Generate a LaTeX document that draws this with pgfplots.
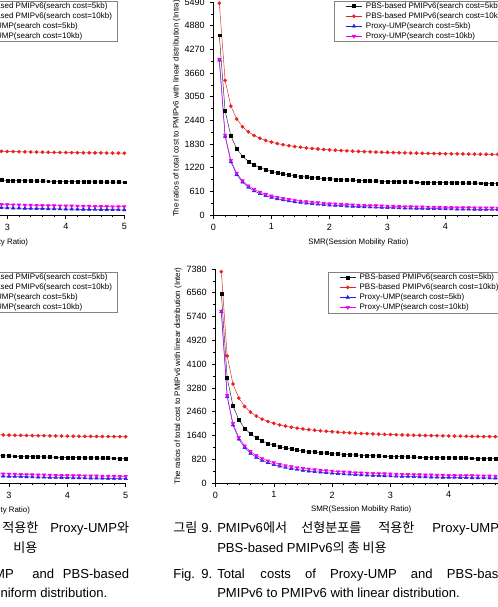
\documentclass[border=0pt]{standalone}
\usepackage{fontspec}
\setmainfont{Liberation Sans}
\newfontfamily\kr{Noto Sans CJK KR}
\usepackage{pgfplots}
\pgfplotsset{compat=1.18}
\usepackage{pgfplotstable}

\definecolor{cred}{RGB}{232,32,32}
\definecolor{cblue}{RGB}{32,32,225}
\definecolor{cmag}{RGB}{235,0,235}
\definecolor{lgray}{RGB}{130,130,130}

% Intra-domain total cost, linear distribution
\pgfplotstableread{
x   black red  blue mag
0.1 4634 5460 3990 4020
0.2 2684 3470 2025 2060
0.3 2034 2807 1370 1407
0.4 1709 2475 1043 1080
0.5 1514 2276 846 884
0.6 1384 2143 715 753
0.7 1291 2049 621 660
0.8 1222 1978 551 590
0.9 1167 1922 497 536
1.0 1124 1878 453 492
1.1 1089 1842 417 456
1.2 1059 1812 388 427
1.3 1034 1786 362 402
1.4 1013 1764 341 380
1.5 994 1745 322 361
1.6 978 1729 306 345
1.7 963 1714 291 331
1.8 951 1701 278 318
1.9 939 1689 267 306
2.0 929 1679 257 296
2.1 920 1670 247 287
2.2 911 1661 239 278
2.3 904 1653 231 270
2.4 897 1646 224 263
2.5 890 1639 217 257
2.6 884 1633 211 251
2.7 878 1627 206 245
2.8 873 1622 200 240
2.9 869 1617 196 235
3.0 864 1613 191 231
3.1 860 1608 187 226
3.2 856 1604 183 223
3.3 852 1601 179 219
3.4 849 1597 176 215
3.5 845 1594 172 212
3.6 842 1591 169 209
3.7 839 1588 166 206
3.8 837 1585 163 203
3.9 834 1582 161 201
4.0 832 1580 158 198
4.1 829 1577 156 196
4.2 827 1575 154 193
4.3 825 1573 151 191
4.4 823 1570 149 189
4.5 821 1568 147 187
4.6 819 1567 145 185
4.7 817 1565 144 183
4.8 815 1563 142 182
4.9 814 1561 140 180
5.0 812 1560 139 178
}\intralin

% Inter-domain total cost, linear distribution
\pgfplotstableread{
x   black red  blue mag
0.1 6542 7287 5907 5920
0.2 3632 4382 2977 3020
0.3 2662 3414 2000 2053
0.4 2177 2930 1512 1570
0.5 1886 2639 1219 1280
0.6 1692 2445 1024 1087
0.7 1553 2307 884 949
0.8 1450 2203 780 845
0.9 1369 2123 698 764
1.0 1304 2058 633 700
1.1 1251 2005 580 647
1.2 1207 1961 535 603
1.3 1170 1924 498 566
1.4 1138 1892 466 534
1.5 1110 1864 438 507
1.6 1086 1840 413 483
1.7 1064 1819 392 461
1.8 1045 1800 373 442
1.9 1028 1783 355 425
2.0 1013 1768 340 410
2.1 999 1754 326 396
2.2 987 1741 313 384
2.3 975 1730 302 372
2.4 965 1719 291 362
2.5 955 1709 281 352
2.6 946 1700 272 343
2.7 938 1692 264 335
2.8 930 1684 256 327
2.9 923 1677 249 320
3.0 916 1671 242 313
3.1 910 1664 236 307
3.2 904 1659 230 301
3.3 898 1653 225 296
3.4 893 1648 219 291
3.5 888 1643 214 286
3.6 884 1638 210 281
3.7 879 1634 205 277
3.8 875 1630 201 273
3.9 871 1626 197 269
4.0 868 1622 194 265
4.1 864 1619 190 261
4.2 861 1615 187 258
4.3 857 1612 183 255
4.4 854 1609 180 252
4.5 851 1606 177 249
4.6 849 1603 174 246
4.7 846 1601 172 243
4.8 843 1598 169 241
4.9 841 1596 167 238
5.0 838 1593 164 236
}\interlin

% Intra-domain total cost, uniform distribution
\pgfplotstableread{
x   black red  blue mag
2.5 918 1658 208 292
2.6 912 1653 202 286
2.7 907 1649 197 281
2.8 902 1644 192 276
2.9 898 1640 188 271
3.0 893 1637 183 267
3.1 889 1633 179 263
3.2 886 1630 176 259
3.3 882 1627 172 255
3.4 879 1624 169 252
3.5 876 1621 166 249
3.6 873 1619 163 246
3.7 870 1616 160 243
3.8 867 1614 157 240
3.9 865 1612 155 237
4.0 863 1610 153 235
4.1 860 1608 150 233
4.2 858 1606 148 230
4.3 856 1604 146 228
4.4 854 1603 144 226
4.5 852 1601 142 224
4.6 850 1600 140 223
4.7 849 1598 139 221
4.8 847 1597 137 219
4.9 846 1595 136 218
5.0 844 1594 134 216
}\intrauni

% Inter-domain total cost, uniform distribution
\pgfplotstableread{
x   black red  blue mag
2.5 980 1689 281 360
2.6 971 1683 272 351
2.7 962 1677 264 342
2.8 954 1671 256 334
2.9 947 1666 249 327
3.0 940 1662 242 320
3.1 934 1657 236 314
3.2 928 1653 230 308
3.3 922 1649 225 302
3.4 916 1646 219 296
3.5 911 1642 214 291
3.6 907 1639 210 287
3.7 902 1636 205 282
3.8 898 1633 201 278
3.9 894 1630 197 274
4.0 890 1628 194 270
4.1 886 1625 190 266
4.2 883 1623 187 263
4.3 880 1621 183 260
4.4 876 1619 180 256
4.5 873 1616 177 253
4.6 870 1614 174 250
4.7 868 1613 172 248
4.8 865 1611 169 245
4.9 862 1609 167 242
5.0 860 1607 164 240
}\interuni

\pgfplotsset{
  costaxis/.style={
    scale only axis,
    xmin=0, xmax=5, ymin=0,
    axis x line*=bottom, axis y line*=left,
    axis line style={-, line width=0.45pt},
    xtick={0,1,2,3,4,5},
    minor x tick num=4, minor y tick num=1,
    tick align=outside,
    major tick length=3pt, minor tick length=1.6pt,
    every tick/.style={black, line width=0.45pt},
    ticklabel style={font=\fontsize{6.8}{8}\selectfont},
    /pgf/number format/assume math mode=true,
    /pgf/number format/1000 sep={},
    scaled ticks=false,
    xlabel={SMR(Session Mobility Ratio)},
    label style={font=\fontsize{5.9}{7}\selectfont},
    legend cell align=left,
    legend style={font=\fontsize{6.0}{7.5}\selectfont, draw=lgray, line width=0.4pt,
      fill=white, inner xsep=4.3pt, inner ysep=0.8pt, column sep=2.8pt, row sep=1pt,
      nodes={inner sep=0pt, text height=5pt, text depth=1.5pt}},
    legend image code/.code={
      \path (0pt,0pt);
      \draw[mark repeat=2, mark phase=2, ##1] plot coordinates {(4.3pt,0pt) (10.3pt,0pt) (16.3pt,0pt)};
    },
  },
  sblack/.style={draw=black!85, line width=0.35pt, mark=square*, mark size=1.1pt,
    mark options={solid, fill=black, draw=black}},
  sred/.style={draw=cred, line width=0.35pt, mark=*, mark size=1.2pt,
    mark options={solid, fill=cred, draw=cred}},
  sblue/.style={draw=cblue, line width=0.35pt, mark=triangle*, mark size=1.5pt,
    mark options={solid, fill=cblue, draw=cblue}},
  smag/.style={draw=cmag, line width=0.35pt, mark=triangle*, mark size=1.5pt,
    mark options={solid, fill=cmag, draw=cmag, rotate=180}},
}

\newcommand{\costplots}[1]{%
  \addplot[sblack] table[x=x, y=black] {#1};
  \addlegendentry{PBS-based PMIPv6(search cost=5kb)}
  \addplot[sred] table[x=x, y=red] {#1};
  \addlegendentry{PBS-based PMIPv6(search cost=10kb)}
  \addplot[sblue] table[x=x, y=blue] {#1};
  \addlegendentry{Proxy-UMP(search cost=5kb)}
  \addplot[smag] table[x=x, y=mag] {#1};
  \addlegendentry{Proxy-UMP(search cost=10kb)}
}

\begin{document}
\begin{tikzpicture}
\useasboundingbox (0pt,0pt) rectangle (373.5pt,455.25pt);
\clip (0pt,0pt) rectangle (373.5pt,455.25pt);

% ---- left column: uniform distribution ----
\begin{axis}[costaxis,
  at={(-126.15pt,294pt)}, anchor=south west,
  width=219.375pt, height=159.75pt,
  ymax=5490, ytick={0,610,...,5490},
  ylabel={The ratios of total cost to PMIPv6 with uniform distribution (Intra)},
  xlabel style={at={(axis description cs:0.5,-0.131)}, anchor=center},
  ylabel style={at={(axis description cs:-0.127,0.5)}, anchor=center},
  legend style={at={(axis description cs:0.9785,1.007)}, anchor=north east},
]
\costplots{\intrauni}
\end{axis}

\begin{axis}[costaxis,
  at={(-124.5pt,92.775pt)}, anchor=south west,
  width=218.775pt, height=160.5pt,
  ymax=7380, ytick={0,820,...,7380},
  ylabel={The ratios of total cost to PMIPv6 with uniform distribution (Inter)},
  xlabel style={at={(axis description cs:0.5,-0.126)}, anchor=center},
  ylabel style={at={(axis description cs:-0.128,0.5)}, anchor=center},
  legend style={at={(axis description cs:0.9736,0.9888)}, anchor=north east},
]
\costplots{\interuni}
\end{axis}

% ---- right column: linear distribution ----
\begin{axis}[costaxis,
  at={(160.125pt,294pt)}, anchor=south west,
  width=217.5pt, height=159.75pt,
  ymax=5490, ytick={0,610,...,5490},
  ylabel={The ratios of total cost to PMIPv6 with linear distribution (Intra)},
  xlabel style={at={(axis description cs:0.5,-0.131)}, anchor=center},
  ylabel style={at={(axis description cs:-0.127,0.5)}, anchor=center},
  legend style={at={(axis description cs:0.4155,1.007)}, anchor=north west},
]
\costplots{\intralin}
\end{axis}

\begin{axis}[costaxis,
  at={(161.625pt,93pt)}, anchor=south west,
  width=218.625pt, height=160.5pt,
  ymax=7380, ytick={0,820,...,7380},
  ylabel={The ratios of total cost to PMIPv6 with linear distribution (Inter)},
  xlabel style={at={(axis description cs:0.5,-0.126)}, anchor=center},
  ylabel style={at={(axis description cs:-0.1286,0.5)}, anchor=center},
  legend style={at={(axis description cs:0.385,0.987)}, anchor=north west},
]
\costplots{\interlin}
\end{axis}

% ---- captions ----
\begin{scope}[every node/.style={inner sep=0pt, font=\fontsize{9.8}{11.5}\selectfont}]
% left column (Fig. 8)
\node[anchor=base west] at (1.5pt,55.875pt) {\kr 적용한};
\node[anchor=base west] at (37.5pt,55.875pt) {Proxy-UMP{\kr 와}};
\node[anchor=base east] at (-0.5pt,40.875pt) {PBS-based PMIPv6{\kr 의 총}};
\node[anchor=base west] at (9.75pt,40.875pt) {\kr 비용};
\node[anchor=base east] at (10.5pt,21.375pt) {Proxy-UMP};
\node[anchor=base west] at (24pt,21.375pt) {and};
\node[anchor=base east] at (97pt,21.375pt) {PBS-based};
\node[anchor=base west] at (-5.25pt,7.125pt) {uniform distribution.};
% right column (Fig. 9)
\node[anchor=base west] at (129.75pt,55.875pt) {\kr 그림};
\node[anchor=base west] at (150.75pt,55.875pt) {9.};
\node[anchor=base west] at (162.75pt,55.875pt) {PMIPv6{\kr 에서}};
\node[anchor=base west] at (225.75pt,55.875pt) {\kr 선형분포를};
\node[anchor=base west] at (283.5pt,55.875pt) {\kr 적용한};
\node[anchor=base west] at (324pt,55.875pt) {Proxy-UMP{\kr 와}};
\node[anchor=base west] at (162.75pt,40.875pt) {PBS-based PMIPv6{\kr 의 총 비용}};
\node[anchor=base west] at (129.75pt,21.375pt) {Fig.};
\node[anchor=base west] at (150.75pt,21.375pt) {9.};
\node[anchor=base west] at (162.75pt,21.375pt) {Total};
\node[anchor=base west] at (195.15pt,21.375pt) {costs};
\node[anchor=base west] at (228.6pt,21.375pt) {of};
\node[anchor=base west] at (247.4pt,21.375pt) {Proxy-UMP};
\node[anchor=base west] at (307.95pt,21.375pt) {and};
\node[anchor=base west] at (334.95pt,21.375pt) {PBS-based};
\node[anchor=base west] at (162.75pt,7.125pt) {PMIPv6 to PMIPv6 with linear distribution.};
\end{scope}
\end{tikzpicture}
\end{document}
